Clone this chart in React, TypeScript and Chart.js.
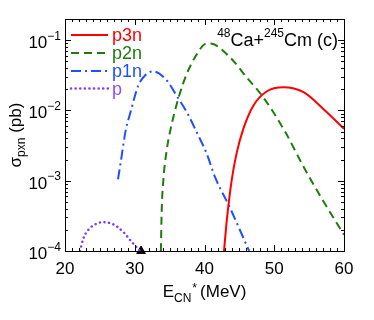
import React, { useEffect, useRef } from "react";
import { Chart, registerables } from "chart.js";

Chart.register(...registerables);

// ---- data ----
const p3nE = [42.8, 43.2, 43.9, 44.6, 45.6, 47.0, 48.9, 51.3, 54.2, 57.0, 60.0];
const p3nSigma = [1e-4, 2.75e-4, 1.02e-3, 2.45e-3, 5.6e-3, 0.0117, 0.0186, 0.0214, 0.0182, 0.0106, 0.0055];

const p2nE = [33.75, 33.85, 34.1, 34.58, 35.1, 36.25, 37.45, 38.9, 40.07, 40.8, 43.66, 46.05, 48.4, 51.5, 54.2, 57.0, 60.0];
const p2nSigma = [1e-4, 3.4e-4, 1.02e-3, 2.7e-3, 5.2e-3, 0.0148, 0.033, 0.063, 0.088, 0.09, 0.057, 0.0295, 0.0155, 0.0051, 1.58e-3, 5.2e-4, 1.7e-4];

const p1nE = [27.6, 28.0, 28.7, 29.4, 30.5, 31.5, 32.6, 34.6, 36.0, 37.45, 38.97, 40.3, 41.5, 43.66, 46.4];
const p1nSigma = [1.05e-3, 1.86e-3, 5.2e-3, 9.5e-3, 0.0226, 0.0316, 0.036, 0.0267, 0.0162, 9.5e-3, 4.7e-3, 2.45e-3, 1.13e-3, 4.1e-4, 1e-4];

const pE = [22.15, 22.6, 23.34, 24.54, 25.4, 26.9, 28.36, 29.56, 30.75];
const pSigma = [1e-4, 1.48e-4, 2.0e-4, 2.45e-4, 2.57e-4, 2.4e-4, 1.86e-4, 1.35e-4, 1e-4];

const markerE = [30.9];
const markerSigma = [1e-4];

const xTicks = [20, 30, 40, 50, 60];
const yDecades = [-4, -3, -2, -1];

const seriesNames = ["p3n", "p2n", "p1n", "p"];
const seriesColors = ["#ff0000", "#1e7b0e", "#1f4fff", "#7b3fff"];
const seriesDash: number[][] = [[], [8, 5], [10, 4, 2, 4], [0.1, 4.5]];

const FONT = "'Liberation Sans', Arial, Helvetica, sans-serif";

function pts(xs: number[], ys: number[]) {
  return xs.map((x, i) => ({ x, y: ys[i] }));
}

const overlay = {
  id: "overlay",
  afterDraw(chart: any) {
    const ctx = chart.ctx;
    const { left, right, top, bottom } = chart.chartArea;
    const xs = chart.scales.x;
    const ys = chart.scales.y;
    ctx.save();
    // frame
    ctx.strokeStyle = "#000";
    ctx.lineWidth = 1;
    ctx.strokeRect(Math.round(left) + 0.5, Math.round(top) + 0.5, Math.round(right - left), Math.round(bottom - top));
    // x ticks
    ctx.beginPath();
    for (let v = 20; v <= 60; v++) {
      const px = Math.round(xs.getPixelForValue(v)) + 0.5;
      const len = v % 10 === 0 ? 6 : 3;
      ctx.moveTo(px, bottom);
      ctx.lineTo(px, bottom - len);
      ctx.moveTo(px, top);
      ctx.lineTo(px, top + len);
    }
    // y ticks
    for (let d = -4; d <= -1; d++) {
      for (let m = 1; m <= 9; m++) {
        const v = m * Math.pow(10, d);
        if (v > ys.max * 1.0001) break;
        const py = Math.round(ys.getPixelForValue(v)) + 0.5;
        const len = m === 1 ? 6 : 3;
        ctx.moveTo(left, py);
        ctx.lineTo(left + len, py);
        ctx.moveTo(right, py);
        ctx.lineTo(right - len, py);
      }
    }
    ctx.stroke();

    ctx.fillStyle = "#000";
    // x tick labels
    ctx.font = `17px ${FONT}`;
    ctx.textAlign = "center";
    ctx.textBaseline = "alphabetic";
    for (const t of xTicks) {
      ctx.fillText(String(t), xs.getPixelForValue(t), 273.5);
    }
    // y tick labels
    for (const d of yDecades) {
      const py = ys.getPixelForValue(Math.pow(10, d));
      ctx.font = `12px ${FONT}`;
      const sup = "\u2212" + Math.abs(d);
      const sw = ctx.measureText(sup).width;
      ctx.textAlign = "right";
      ctx.fillText(sup, left - 4, py - 0.5);
      ctx.font = `17px ${FONT}`;
      ctx.fillText("10", left - 4 - sw, py + 8);
    }
    // x title
    {
      const cx = (left + right) / 2;
      ctx.textAlign = "left";
      ctx.font = `17px ${FONT}`;
      const wE = ctx.measureText("E").width;
      const wM = ctx.measureText(" (MeV)").width;
      ctx.font = `12px ${FONT}`;
      const wCN = ctx.measureText("CN").width;
      const total = wE + wCN + 4 + wM;
      let x = cx - total / 2;
      ctx.font = `17px ${FONT}`;
      ctx.fillText("E", x, 297);
      x += wE;
      ctx.font = `12px ${FONT}`;
      ctx.fillText("CN", x, 302);
      ctx.fillText("*", x + wCN + 1, 292);
      x += wCN + 4;
      ctx.font = `17px ${FONT}`;
      ctx.fillText(" (MeV)", x, 297);
    }
    // y title
    {
      ctx.save();
      ctx.translate(21, (top + bottom) / 2);
      ctx.rotate(-Math.PI / 2);
      ctx.textAlign = "left";
      ctx.font = `17px ${FONT}`;
      const wS = ctx.measureText("\u03c3").width;
      const wP = ctx.measureText(" (pb)").width;
      ctx.font = `12px ${FONT}`;
      const wX = ctx.measureText("pxn").width;
      const total = wS + wX + wP;
      let x = -total / 2;
      ctx.font = `17px ${FONT}`;
      ctx.fillText("\u03c3", x, 0);
      x += wS;
      ctx.font = `12px ${FONT}`;
      ctx.fillText("pxn", x, 4);
      x += wX;
      ctx.font = `17px ${FONT}`;
      ctx.fillText(" (pb)", x, 0);
      ctx.restore();
    }
    // annotation: 48Ca+245Cm (c), right-aligned inside the frame
    {
      ctx.textAlign = "left";
      const parts: [string, number, number][] = [
        ["48", 12, 37],
        ["Ca+", 18, 46],
        ["245", 12, 37],
        ["Cm", 18, 46],
        [" (c)", 18, 46],
      ];
      let total = 0;
      for (const [t, s] of parts) {
        ctx.font = `${s}px ${FONT}`;
        total += ctx.measureText(t).width;
      }
      let x = right - 6 - total;
      for (const [t, s, yb] of parts) {
        ctx.font = `${s}px ${FONT}`;
        ctx.fillText(t, x, yb);
        x += ctx.measureText(t).width;
      }
    }
    // legend
    {
      const rowY = [35, 53, 71, 88.5];
      ctx.textAlign = "left";
      ctx.textBaseline = "middle";
      ctx.font = `18px ${FONT}`;
      seriesNames.forEach((name, i) => {
        ctx.strokeStyle = seriesColors[i];
        ctx.lineWidth = i === 3 ? 2.5 : 2;
        ctx.lineCap = i === 3 ? "round" : "butt";
        ctx.setLineDash(seriesDash[i]);
        ctx.beginPath();
        ctx.moveTo(71, rowY[i]);
        ctx.lineTo(108, rowY[i]);
        ctx.stroke();
        ctx.setLineDash([]);
        ctx.fillStyle = i === 3 ? "#8a4fff" : seriesColors[i];
        ctx.fillText(name, 112, rowY[i] + 1.5);
      });
    }
    ctx.restore();
  },
};

export default function App() {
  const ref = useRef<HTMLCanvasElement | null>(null);
  useEffect(() => {
    if (!ref.current) return;
    const mk = (i: number, xs: number[], ysv: number[]) => ({
      label: seriesNames[i],
      data: pts(xs, ysv),
      borderColor: seriesColors[i],
      backgroundColor: seriesColors[i],
      borderWidth: i === 3 ? 2.5 : 2,
      borderDash: seriesDash[i],
      borderCapStyle: i === 3 ? "round" : "butt",
      pointRadius: 0,
      cubicInterpolationMode: "monotone",
      fill: false,
    });
    const chart = new Chart(ref.current, {
      type: "line",
      data: {
        datasets: [
          mk(0, p3nE, p3nSigma),
          mk(1, p2nE, p2nSigma),
          mk(2, p1nE, p1nSigma),
          mk(3, pE, pSigma),
          {
            label: "marker",
            data: pts(markerE, markerSigma),
            showLine: false,
            pointStyle: "triangle",
            pointRadius: 5,
            pointBackgroundColor: "#000",
            pointBorderColor: "#000",
            borderColor: "#000",
            backgroundColor: "#000",
            clip: false,
          } as any,
        ] as any,
      },
      options: {
        animation: false,
        responsive: false,
        events: [],
        layout: { padding: { left: 0, right: 30, top: 19, bottom: 0 } },
        plugins: { legend: { display: false }, tooltip: { enabled: false } },
        scales: {
          x: {
            type: "linear",
            min: 20,
            max: 60,
            grid: { display: false },
            border: { display: false },
            ticks: { display: false },
            afterFit(scale: any) {
              scale.height = 69;
            },
          },
          y: {
            type: "logarithmic",
            min: 1e-4,
            max: 0.2,
            grid: { display: false },
            border: { display: false },
            ticks: { display: false },
            afterFit(scale: any) {
              scale.width = 65;
            },
          },
        },
      } as any,
      plugins: [overlay],
    });
    return () => chart.destroy();
  }, []);
  return (
    <div style={{ position: "fixed", left: 0, top: 0, width: 374, height: 320, background: "#fff" }}>
      <canvas ref={ref} width={374} height={320} style={{ display: "block" }} />
    </div>
  );
}
